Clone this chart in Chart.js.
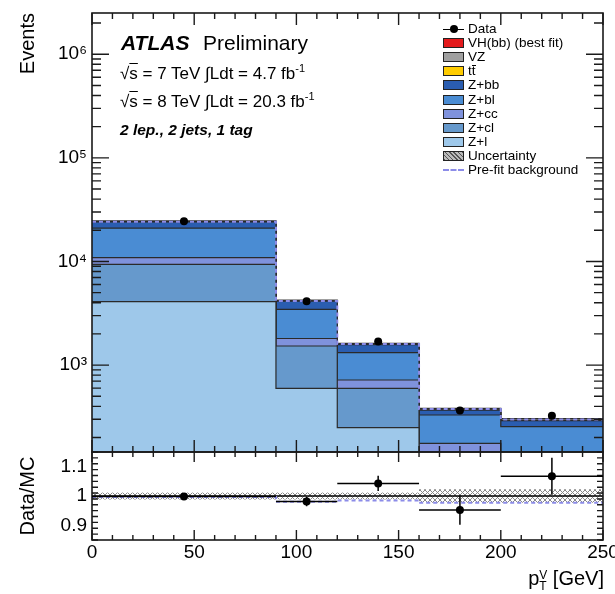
<!DOCTYPE html>
<html><head><meta charset="utf-8">
<script src="https://cdn.jsdelivr.net/npm/chart.js@4.4.1/dist/chart.umd.min.js"></script>
<style>
html,body{margin:0;padding:0;background:#fff;}
body{width:615px;height:594px;position:relative;overflow:hidden;font-family:"Liberation Sans",Arial,sans-serif;color:#000;}
canvas{position:absolute;left:0;}
#c1{top:0;}
#c2{top:440px;}
.t{position:absolute;white-space:nowrap;line-height:1;z-index:5;}
.ov{text-decoration:overline;}
.sw{position:absolute;left:443px;width:19px;height:8px;border:1px solid #222;z-index:5;}
.lt{position:absolute;left:468px;font-size:13.5px;line-height:14px;white-space:nowrap;z-index:5;}
</style></head><body>
<canvas id="c1" width="615" height="460"></canvas>
<canvas id="c2" width="615" height="154"></canvas>

<div class="t" style="left:121px;top:32px;font-size:21px;"><b><i>ATLAS</i></b></div>
<div class="t" style="left:203px;top:32px;font-size:21px;">Preliminary</div>
<div class="t" style="left:120px;top:63px;font-size:17px;">√<span class="ov">s</span> = 7 TeV ∫Ldt = 4.7 fb<sup style="font-size:11px">-1</sup></div>
<div class="t" style="left:120px;top:91px;font-size:17px;">√<span class="ov">s</span> = 8 TeV ∫Ldt = 20.3 fb<sup style="font-size:11px">-1</sup></div>
<div class="t" style="left:120px;top:122px;font-size:15.5px;"><b><i>2 lep., 2 jets, 1 tag</i></b></div>

<div class="t" style="right:598px;top:13px;font-size:20px;transform-origin:top right;transform:rotate(-90deg);">Events</div>
<div class="t" style="left:27px;top:496px;font-size:20px;transform:translate(-50%,-50%) rotate(-90deg);">Data/MC</div>
<div class="t" style="right:11px;top:568px;font-size:20px;">p<span style="display:inline-block;vertical-align:-5px;font-size:12px;line-height:11px;">V<br>T</span> [GeV]</div>

<div id="legend"></div>

<script>
// ---- data ----
const binEdges = [0, 90, 120, 160, 200, 250];
const binCenters = [45, 105, 140, 180, 225];
const zLight = [4090, 597, 249, 60, 40];
const zCl = [5290, 931, 348, 40, 40];
const zCc = [1520, 277, 121, 76, 40];
const zBl = [10100, 1646, 599, 154, 135];
const zBb = [3100, 700, 262, 38, 36];
const ttbar = [150, 20, 8, 2, 1];
const vz = [230, 45, 28, 10, 10];
const vhbb = [20, 4, 5, 3, 3];
const dataEvents = [24400, 4140, 1685, 365, 325];
const dataErr = [156, 64, 41, 19, 18];
const prefitBkg = [24150, 4160, 1600, 376, 298];
const ratioVals = [0.998, 0.981, 1.043, 0.952, 1.067];
const ratioErr = [0.007, 0.016, 0.026, 0.05, 0.063];
const uncUp = [1.012, 1.012, 1.012, 1.023, 1.023];
const uncDown = [0.988, 0.988, 0.988, 0.977, 0.977];
const prefitRatio = [0.997, 0.98, 0.985, 0.977, 0.977];
const yTickValues = [1e3, 1e4, 1e5, 1e6];
const yTickLabels = ['10³', '10⁴', '10⁵', '10⁶'];
const xTickValues = [0, 50, 100, 150, 200, 250];
const xTickLabels = ['0', '50', '100', '150', '200', '250'];
const ratioTickValues = [0.9, 1, 1.1];
const ratioTickLabels = ['0.9', '1', '1.1'];

const colors = {
  zl: '#9ec8ea', zcl: '#6699cc', zcc: '#7f92dc', zbl: '#4a8cd3', zbb: '#2a5db0',
  tt: '#ffcc00', vz: '#a0a0a0', vh: '#e41a1c', prefit: '#8c8ce8'
};

Chart.defaults.font.family = "'Liberation Sans', Arial, sans-serif";
Chart.defaults.color = '#000';

function steps(vals) {
  return binEdges.map((e, i) => ({ x: e, y: vals[Math.min(i, vals.length - 1)] }));
}
function mcDs(label, vals, color) {
  return { label, data: steps(vals), stepped: 'before', backgroundColor: color,
    borderColor: '#2a2a2a', borderWidth: 1.2, fill: 'start', pointRadius: 0,
    stack: 'mc', order: 10 };
}
function hatchPattern() {
  const c = document.createElement('canvas'); c.width = 5; c.height = 5;
  const g = c.getContext('2d');
  g.strokeStyle = '#888'; g.lineWidth = 1;
  g.beginPath(); g.moveTo(0, 5); g.lineTo(5, 0); g.moveTo(0, 0); g.lineTo(5, 5); g.stroke();
  return g.createPattern(c, 'repeat');
}
function noPad(s) { s.paddingTop = 0; s.paddingBottom = 0; s.paddingLeft = 0; s.paddingRight = 0; }

// inward ticks + frame
const frameTicks = {
  id: 'frameTicks',
  afterDatasetsDraw(chart, args, o) {
    const { ctx, chartArea: a, scales } = chart;
    const sx = scales.x, sy = scales.y;
    ctx.save();
    ctx.strokeStyle = '#1a1a1a'; ctx.lineWidth = 1.4;
    ctx.beginPath();
    o.xTicks.forEach(t => {
      const px = sx.getPixelForValue(t.v);
      if (o.xBottom) { ctx.moveTo(px, a.bottom); ctx.lineTo(px, a.bottom - t.len); }
      if (o.xTop) { ctx.moveTo(px, a.top); ctx.lineTo(px, a.top + t.len); }
    });
    o.yTicks.forEach(t => {
      const py = sy.getPixelForValue(t.v);
      if (py < a.top - 0.5 || py > a.bottom + 0.5) return;
      ctx.moveTo(a.left, py); ctx.lineTo(a.left + t.len, py);
      ctx.moveTo(a.right, py); ctx.lineTo(a.right - t.len, py);
    });
    ctx.stroke();
    ctx.lineWidth = 1.6;
    ctx.strokeRect(a.left, a.top, a.right - a.left, a.bottom - a.top);
    ctx.restore();
  }
};
// error bars
const errorBars = {
  id: 'errorBars',
  afterDatasetsDraw(chart, args, o) {
    const { ctx, scales: { x, y } } = chart;
    ctx.save(); ctx.strokeStyle = '#000'; ctx.lineWidth = 1.5; ctx.beginPath();
    o.points.forEach(p => {
      const px = x.getPixelForValue(p.x), py = y.getPixelForValue(p.y);
      ctx.moveTo(px, y.getPixelForValue(p.y - p.ey)); ctx.lineTo(px, y.getPixelForValue(p.y + p.ey));
      if (p.xlo !== undefined) { ctx.moveTo(x.getPixelForValue(p.xlo), py); ctx.lineTo(x.getPixelForValue(p.xhi), py); }
    });
    ctx.stroke(); ctx.restore();
  }
};

const xMinor = [];
for (let v = 0; v <= 250; v += 10) xMinor.push(v);
const logTicks = [];
for (let e = 2; e <= 6; e++) for (let k = 1; k <= 9; k++) logTicks.push({ v: k * Math.pow(10, e), len: k === 1 ? 17 : 9 });
const ratioTicks = [];
for (let i = 0; i <= 15; i++) { const v = 0.85 + i * 0.02; ratioTicks.push({ v, len: Math.abs((v * 10) - Math.round(v * 10)) < 1e-6 ? 11 : 6 }); }

// ---- main panel ----
new Chart(document.getElementById('c1'), {
  type: 'line',
  data: { datasets: [
    mcDs('Z+l', zLight, colors.zl),
    mcDs('Z+cl', zCl, colors.zcl),
    mcDs('Z+cc', zCc, colors.zcc),
    mcDs('Z+bl', zBl, colors.zbl),
    mcDs('Z+bb', zBb, colors.zbb),
    mcDs('tt', ttbar, colors.tt),
    mcDs('VZ', vz, colors.vz),
    mcDs('VH(bb)', vhbb, colors.vh),
    { label: 'Pre-fit background', data: steps(prefitBkg), stepped: 'before', fill: false,
      borderColor: colors.prefit, borderDash: [4, 3], borderWidth: 2, pointRadius: 0, stack: 'prefit', order: 1 },
    { label: 'Data', data: binCenters.map((x, i) => ({ x, y: dataEvents[i] })), showLine: false,
      pointRadius: 4, pointBackgroundColor: '#000', pointBorderWidth: 0, stack: 'data', order: 0 }
  ]},
  options: {
    responsive: false, animation: false, devicePixelRatio: 1,
    layout: { padding: { left: 0, right: 12, top: 13, bottom: 8 }, autoPadding: false },
    plugins: { legend: { display: false }, tooltip: { enabled: false },
      frameTicks: { xTop: true, xBottom: true,
        xTicks: xMinor.map(v => ({ v, len: v % 50 === 0 ? 12 : 6 })), yTicks: logTicks },
      errorBars: { points: binCenters.map((x, i) => ({ x, y: dataEvents[i], ey: dataErr[i] })) } },
    scales: {
      x: { type: 'linear', min: 0, max: 250, display: false },
      y: { type: 'logarithmic', min: 145, max: 2.5e6, stacked: true,
        afterFit(s) { s.width = 92; noPad(s); },
        afterBuildTicks(s) { s.ticks = yTickValues.map(v => ({ value: v })); },
        ticks: { callback: v => yTickLabels[yTickValues.indexOf(v)], font: { size: 19 }, padding: 5, autoSkip: false },
        grid: { display: false, drawTicks: false }, border: { display: false } }
    }
  },
  plugins: [frameTicks, errorBars]
});

// ---- ratio panel ----
new Chart(document.getElementById('c2'), {
  type: 'line',
  data: { datasets: [
    { label: 'unc up', data: steps(uncUp), stepped: 'before', fill: false, borderWidth: 0, borderColor: 'rgba(0,0,0,0)', pointRadius: 0, order: 5 },
    { label: 'Uncertainty', data: steps(uncDown), stepped: 'before', fill: '-1', backgroundColor: hatchPattern(), borderWidth: 0, borderColor: 'rgba(0,0,0,0)', pointRadius: 0, order: 5 },
    { label: 'unity', data: [{ x: 0, y: 1 }, { x: 250, y: 1 }], borderColor: '#000', borderWidth: 1.4, pointRadius: 0, fill: false, order: 2 },
    { label: 'Pre-fit background', data: steps(prefitRatio), stepped: 'before', fill: false, borderColor: colors.prefit, borderDash: [4, 3], borderWidth: 2, pointRadius: 0, order: 1 },
    { label: 'Data', data: binCenters.map((x, i) => ({ x, y: ratioVals[i] })), showLine: false, pointRadius: 4, pointBackgroundColor: '#000', pointBorderWidth: 0, order: 0 }
  ]},
  options: {
    responsive: false, animation: false, devicePixelRatio: 1,
    layout: { padding: { left: 0, right: 12, top: 12, bottom: 0 }, autoPadding: false },
    plugins: { legend: { display: false }, tooltip: { enabled: false },
      frameTicks: { xTop: true, xBottom: true,
        xTicks: xMinor.map(v => ({ v, len: v % 50 === 0 ? 10 : 5 })), yTicks: ratioTicks },
      errorBars: { points: binCenters.map((x, i) => ({ x, y: ratioVals[i], ey: ratioErr[i], xlo: binEdges[i], xhi: binEdges[i + 1] })) } },
    scales: {
      x: { type: 'linear', min: 0, max: 250,
        afterFit(s) { s.height = 54; noPad(s); },
        afterBuildTicks(s) { s.ticks = xTickValues.map(v => ({ value: v })); },
        ticks: { callback: v => xTickLabels[xTickValues.indexOf(v)], font: { size: 19 }, padding: 1, maxRotation: 0, autoSkip: false },
        grid: { display: false, drawTicks: false }, border: { display: false } },
      y: { type: 'linear', min: 0.85, max: 1.15,
        afterFit(s) { s.width = 92; noPad(s); },
        afterBuildTicks(s) { s.ticks = ratioTickValues.map(v => ({ value: v })); },
        ticks: { callback: v => ratioTickLabels[ratioTickValues.indexOf(v)], font: { size: 19 }, padding: 5, autoSkip: false },
        grid: { display: false, drawTicks: false }, border: { display: false } }
    }
  },
  plugins: [frameTicks, errorBars]
});

// ---- legend ----
const legendItems = [
  { label: 'Data', kind: 'data' },
  { label: 'VH(bb) (best fit)', kind: 'box', color: colors.vh },
  { label: 'VZ', kind: 'box', color: colors.vz },
  { label: 't<span style="display:inline-block;border-top:1px solid #000;line-height:10px;">t</span>', kind: 'box', color: colors.tt },
  { label: 'Z+bb', kind: 'box', color: colors.zbb },
  { label: 'Z+bl', kind: 'box', color: colors.zbl },
  { label: 'Z+cc', kind: 'box', color: colors.zcc },
  { label: 'Z+cl', kind: 'box', color: colors.zcl },
  { label: 'Z+l', kind: 'box', color: colors.zl },
  { label: 'Uncertainty', kind: 'hatch' },
  { label: 'Pre-fit background', kind: 'dash' }
];
const lg = document.getElementById('legend');
legendItems.forEach((it, i) => {
  const cy = 29 + i * 14.1;
  let sw = '';
  if (it.kind === 'box') sw = `<div class="sw" style="top:${cy - 5}px;background:${it.color};"></div>`;
  else if (it.kind === 'hatch') sw = `<div class="sw" style="top:${cy - 5}px;background:repeating-linear-gradient(45deg,#555 0 1px,#bbb 1px 3px);"></div>`;
  else if (it.kind === 'dash') sw = `<div style="position:absolute;left:443px;top:${cy - 1}px;width:21px;height:0;border-top:2px dashed ${colors.prefit};z-index:5;"></div>`;
  else sw = `<div style="position:absolute;left:443px;top:${cy - 0.5}px;width:21px;height:1.5px;background:#000;z-index:5;"></div><div style="position:absolute;left:449.5px;top:${cy - 4}px;width:8px;height:8px;border-radius:50%;background:#000;z-index:5;"></div>`;
  lg.insertAdjacentHTML('beforeend', sw + `<div class="lt" style="top:${cy - 7}px;">${it.label}</div>`);
});
</script>
</body></html>
